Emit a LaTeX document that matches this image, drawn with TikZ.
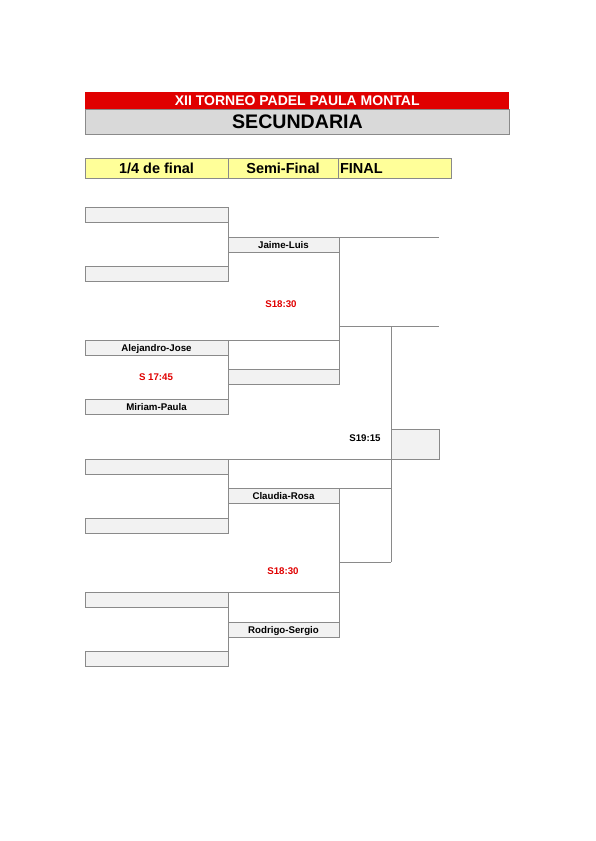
\documentclass[tikz,border=0pt]{standalone}
\usepackage{fontspec}
\setmainfont{Liberation Sans}
\usetikzlibrary{positioning}

\definecolor{cuadro}{HTML}{F2F2F2}
\definecolor{linea}{HTML}{8A8A8A}
\definecolor{rojo}{HTML}{E00000}
\definecolor{amarillo}{HTML}{FFFF99}
\definecolor{gristit}{HTML}{D9D9D9}

\tikzset{
  pareja/.style={draw=linea, fill=cuadro, line width=0.9pt, minimum width=143pt,
    minimum height=15pt, inner sep=0pt, outer sep=0pt, anchor=north west,
    text height=8pt, text depth=0pt,
    font=\fontsize{9.7}{11}\selectfont\bfseries},
  semi/.style={pareja, minimum width=111pt},
  hora/.style={text=rojo, font=\fontsize{9.7}{11}\selectfont\bfseries},
  cabecera/.style={draw=linea, fill=amarillo, line width=0.9pt, minimum height=20pt,
    inner sep=0pt, outer sep=0pt, anchor=north west, text height=11pt, text depth=0pt,
    font=\fontsize{14.5}{16}\selectfont\bfseries},
  conector/.style={draw=linea, line width=0.9pt}
}

\begin{document}
\begin{tikzpicture}[x=1pt, y=-1pt]
\useasboundingbox (0,0) rectangle (595,841);

% titulo
\node[fill=rojo, text=white, minimum width=424pt, minimum height=17pt, inner sep=0pt,
  anchor=north west, font=\fontsize{14}{15}\selectfont\bfseries] (torneo) at (85,92)
  {XII TORNEO PADEL PAULA MONTAL};
\node[draw=linea, fill=gristit, line width=0.9pt, minimum width=424pt, minimum height=25pt,
  inner sep=0pt, anchor=north west, font=\fontsize{19.6}{21}\selectfont\bfseries] (categoria)
  at (85,109) {SECUNDARIA};

% cabecera de rondas
\node[cabecera, minimum width=143pt] (cuartos) at (85,158) {1/4 de final};
\node[cabecera, minimum width=110pt] (semis) at (228,158) {Semi-Final};
\node[cabecera, minimum width=113pt, align=left, text width=109pt] (final) at (338,158) {FINAL};

% cuartos
\node[pareja] (q1) at (85,207) {};
\node[pareja] (q2) at (85,266) {};
\node[pareja] (q3) at (85,340) {Alejandro-Jose};
\node[pareja] (q4) at (85,399) {Miriam-Paula};
\node[pareja] (q5) at (85,459) {};
\node[pareja] (q6) at (85,518) {};
\node[pareja] (q7) at (85,592) {};
\node[pareja] (q8) at (85,651) {};

% semifinales
\node[semi] (s1) at (228,237) {Jaime-Luis};
\node[semi] (s2) at (228,369) {};
\node[semi] (s3) at (228,488) {Claudia-Rosa};
\node[semi] (s4) at (228,622) {Rodrigo-Sergio};

% final
\node[pareja, minimum width=48pt, minimum height=30pt] (fin) at (391,429) {};

% horarios
\node[hora] (h1) at (281,304) {S18:30};
\node[hora] (h2) at (156,377) {S 17:45};
\node[hora] (h3) at (283,571) {S18:30};
\node[font=\fontsize{9.7}{11}\selectfont\bfseries] (h4) at (365,438) {S19:15};

\coordinate (borde1) at (439,237);
\coordinate (borde2) at (439,326);
\coordinate (cruce1) at (391,326);
\coordinate (cruce2) at (391,562);

% llaves
\draw[conector] (q1.north east) -- (q2.south east);
\draw[conector] (q3.north east) -- (q4.south east);
\draw[conector] (q5.north east) -- (q6.south east);
\draw[conector] (q7.north east) -- (q8.south east);
\draw[conector] (q3.north east) -- (q3.north east -| s2.east);
\draw[conector] (q5.north east) -- (fin.south west);
\draw[conector] (q7.north east) -- (q7.north east -| s4.east);
\draw[conector] (s1.north east) -- (borde1);
\draw[conector] (s1.north east) -- (s2.south east);
\draw[conector] (s3.north east) -- (s4.south east);
\draw[conector] (s3.north east) -- (s3.north east -| cruce1);
\draw[conector] (cruce1 -| s1.east) -- (borde2);
\draw[conector] (cruce1) -- (cruce2);
\draw[conector] (cruce2) -- (cruce2 -| s3.east);
\end{tikzpicture}
\end{document}
